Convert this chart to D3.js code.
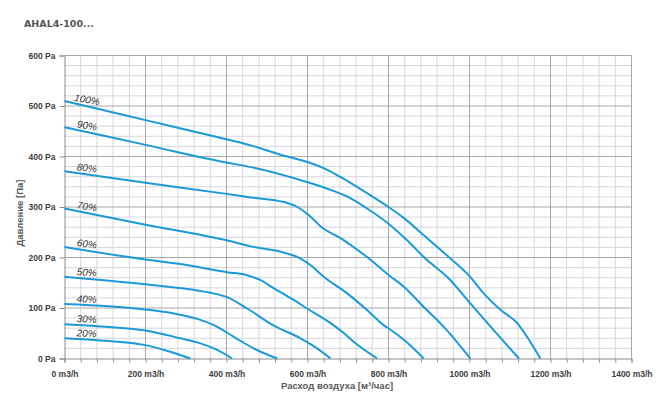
<!DOCTYPE html>
<html>
<head>
<meta charset="utf-8">
<script src="https://cdn.jsdelivr.net/npm/d3@7"></script>
<style>
  body { margin: 0; background: #fff; }
  text { font-family: "Liberation Sans", Arial, sans-serif; }
</style>
</head>
<body>
<div id="chart"></div>
<script>
// fan curves, [flow m3/h, pressure Pa]
const c100 = [[0,510],[200,472],[400,434],[460,422],[540,402],[600,389],[650,373],[680,360],[730,336],[800,300],[840,277],[887,244],[953,198],[1000,163],[1035,129],[1077,96],[1118,70],[1142,43],[1175,0]];
const c90 = [[0,458],[200,423],[400,388],[460,379],[600,349],[657,334],[700,320],[747,297],[800,267],[846,234],[887,201],[953,155],[1002,109],[1052,63],[1122,0]];
const c80 = [[0,371],[200,348],[400,326],[460,319],[541,310],[575,300],[603,284],[632,262],[690,234],[747,201],[801,165],[838,142],[887,102],[936,63],[1002,0]];
const c70 = [[0,297],[200,265],[400,234],[460,222],[541,210],[583,198],[607,185],[640,162],[698,129],[747,96],[788,66],[805,57],[838,37],[887,0]];
const c60 = [[0,221],[200,196],[286,187],[402,171],[451,165],[484,155],[517,139],[566,116],[599,99],[657,70],[690,50],[714,33],[772,0]];
const c50 = [[0,162],[200,147],[290,139],[360,130],[400,122],[451,99],[517,65],[583,40],[620,22],[657,0]];
const c40 = [[0,108],[200,97],[270,89],[330,78],[369,66],[418,43],[467,20],[525,0]];
const c30 = [[0,68],[100,63],[204,55],[286,40],[336,30],[377,17],[414,0]];
const c20 = [[0,40],[100,35],[196,27],[255,15],[311,0]];

const curves = [c100, c90, c80, c70, c60, c50, c40, c30, c20];
const curveLabels = ["100%", "90%", "80%", "70%", "60%", "50%", "40%", "30%", "20%"];

const xTicks = [0, 200, 400, 600, 800, 1000, 1200, 1400];
const yTicks = [0, 100, 200, 300, 400, 500, 600];

const width = 665, height = 411;

const svg = d3.select("#chart").append("svg")
  .attr("width", width)
  .attr("height", height);

const x = d3.scaleLinear().domain([0, 1400]).range([64.5, 631.5]);
const y = d3.scaleLinear().domain([0, 600]).range([358.5, 55.5]);

// title
svg.append("text")
  .attr("x", 24).attr("y", 26.5)
  .style("font-family", "'DejaVu Sans', Verdana, sans-serif")
  .style("font-size", "9.5px")
  .style("font-weight", "bold")
  .attr("fill", "#555")
  .text("AHAL4-100...");

// minor grid
const grid = svg.append("g");
grid.selectAll(".vminor")
  .data(d3.range(40, 1400, 40).filter(d => d % 200 !== 0))
  .join("line")
  .attr("x1", d => x(d)).attr("x2", d => x(d))
  .attr("y1", y(0)).attr("y2", y(600))
  .attr("stroke", "#d6d6de");
grid.selectAll(".hminor")
  .data(d3.range(20, 600, 20).filter(d => d % 100 !== 0))
  .join("line")
  .attr("x1", x(0)).attr("x2", x(1400))
  .attr("y1", d => y(d)).attr("y2", d => y(d))
  .attr("stroke", "#d6d6de");

// major grid
grid.selectAll(".vmajor")
  .data(xTicks.slice(1))
  .join("line")
  .attr("x1", d => x(d)).attr("x2", d => x(d))
  .attr("y1", y(0)).attr("y2", y(600))
  .attr("stroke", "#a8a8a8");
grid.selectAll(".hmajor")
  .data(yTicks.slice(1))
  .join("line")
  .attr("x1", x(0)).attr("x2", x(1400))
  .attr("y1", d => y(d)).attr("y2", d => y(d))
  .attr("stroke", "#a8a8a8");

// axes
const xAxis = svg.append("g")
  .attr("transform", `translate(0,${y(0)})`)
  .call(d3.axisBottom(x).tickValues(d3.range(0, 1401, 40)).tickSize(4).tickFormat(""));
const xLab = svg.append("g")
  .attr("transform", `translate(0,${y(0)})`)
  .call(d3.axisBottom(x).tickValues(xTicks).tickSize(0).tickPadding(12).tickFormat(d => d + " m3/h"));
xLab.select(".domain").remove();

const yAxis = svg.append("g")
  .attr("transform", `translate(${x(0)},0)`)
  .call(d3.axisLeft(y).tickValues(yTicks).tickSize(5).tickPadding(4).tickFormat(d => d + " Pa"));

[xAxis, yAxis].forEach(a => {
  a.select(".domain").attr("stroke", "#8c8c8c");
  a.selectAll(".tick line").attr("stroke", "#8c8c8c");
});
[xLab, yAxis].forEach(a => {
  a.selectAll(".tick text")
    .style("font-family", "'Liberation Sans', Arial, sans-serif")
    .style("font-size", "8.5px")
    .style("font-weight", "bold")
    .attr("fill", "#404040");
});

// axis titles
svg.append("text")
  .attr("x", 337).attr("y", 389)
  .attr("text-anchor", "middle")
  .style("font-size", "9.5px")
  .style("font-weight", "bold")
  .attr("fill", "#595959")
  .text("Расход воздуха [м³/час]");
svg.append("text")
  .attr("transform", "translate(23,213) rotate(-90)")
  .attr("text-anchor", "middle")
  .style("font-size", "9.5px")
  .style("font-weight", "bold")
  .attr("fill", "#595959")
  .text("Давление [Па]");

// curves
const line = d3.line()
  .x(d => x(d[0]))
  .y(d => y(d[1]))
  .curve(d3.curveMonotoneX);

svg.append("g").selectAll("path")
  .data(curves)
  .join("path")
  .attr("d", line)
  .attr("fill", "none")
  .attr("stroke", "#1a9ad8")
  .attr("stroke-width", 2);

// percent labels above the start of each curve
svg.append("g").selectAll("text")
  .data(curves)
  .join("text")
  .attr("transform", (d, i) => {
    const a = d[0], b = d[1];
    const ang = Math.atan2(y(b[1]) - y(a[1]), x(b[0]) - x(a[0])) * 180 / Math.PI * 0.8;
    const lx = 54;
    const ly = a[1] + (b[1] - a[1]) * (lx - a[0]) / (b[0] - a[0]);
    return `translate(${x(lx)},${y(ly) - 3}) rotate(${ang})`;
  })
  .attr("text-anchor", "middle")
  .style("font-size", "10px")
  .style("font-style", "italic")
  .attr("fill", "#333")
  .text((d, i) => curveLabels[i]);
</script>
</body>
</html>
